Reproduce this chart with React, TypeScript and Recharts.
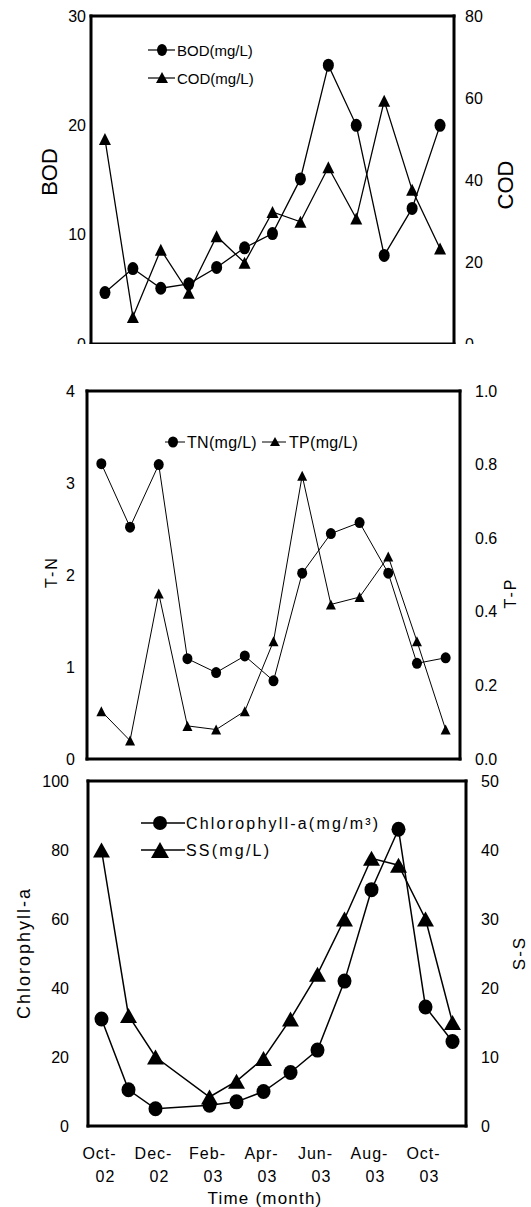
import React from 'react';
import { ComposedChart, Line, XAxis, YAxis, Legend } from 'recharts';

// 13 sampling dates used in the two upper panels
const sampleMonths = ['Oct-02', 'Nov-02', 'Dec-02', 'Feb-03', 'Mar-03', 'Apr-03', 'May-03', 'Jun-03', 'Jul-03', 'Aug-03', 'Sep-03', 'Oct-03', 'Nov-03'];
const bod = [4.7, 6.9, 5.1, 5.5, 7.0, 8.8, 10.1, 15.1, 25.5, 20.0, 8.1, 12.4, 20.0];
const cod = [50, 6.6, 23, 12.5, 26.3, 19.8, 32.2, 29.8, 43.1, 30.6, 59.3, 37.6, 23.3];
const tn = [3.21, 2.52, 3.2, 1.09, 0.94, 1.12, 0.85, 2.02, 2.45, 2.57, 2.02, 1.04, 1.1];
const tp = [0.13, 0.05, 0.45, 0.09, 0.08, 0.13, 0.32, 0.77, 0.42, 0.44, 0.55, 0.32, 0.08];

// bottom panel uses monthly slots, January has no sample
const monthSlots = ['Oct-02', 'Nov-02', 'Dec-02', 'Jan-03', 'Feb-03', 'Mar-03', 'Apr-03', 'May-03', 'Jun-03', 'Jul-03', 'Aug-03', 'Sep-03', 'Oct-03', 'Nov-03'];
const chlorophyll = [31, 10.5, 5, null, 6, 7, 10, 15.5, 22, 42, 68.5, 86, 34.5, 24.5];
const ss = [40, 16, 10, null, 4.2, 6.5, 9.8, 15.5, 22, 30, 38.8, 37.8, 30, 15];

const bodTicks = [0, 10, 20, 30];
const codTicks = [0, 20, 40, 60, 80];
const tnTicks = [0, 1, 2, 3, 4];
const tpTicks = [0, 0.2, 0.4, 0.6, 0.8, 1.0];
const chlTicks = [0, 20, 40, 60, 80, 100];
const ssTicks = [0, 10, 20, 30, 40, 50];
const monthLabels = ['Oct-02', 'Dec-02', 'Feb-03', 'Apr-03', 'Jun-03', 'Aug-03', 'Oct-03'];

const topData = sampleMonths.map((m, i) => ({ pos: i + 0.5, month: m, bod: bod[i], cod: cod[i] }));
const midData = sampleMonths.map((m, i) => ({ pos: i + 0.5, month: m, tn: tn[i], tp: tp[i] }));
const lowData = monthSlots.map((m, i) => ({ pos: i + 0.5, month: m, chl: chlorophyll[i], ss: ss[i] }));

const FONT = '"Liberation Sans", Arial, sans-serif';
const frame = { stroke: '#000', strokeWidth: 3, strokeLinecap: 'square' as const };
const tickFont = { fontSize: 16, fill: '#000', fontFamily: FONT };
const innerTick = { stroke: '#000', strokeWidth: 1 };

const ellipseDot = (rx: number, ry: number) => (props: any) => {
  const { cx, cy, index, value } = props;
  if (cx == null || cy == null || value == null) return <g key={`e-${index}`} />;
  return <ellipse key={`e-${index}`} cx={cx} cy={cy} rx={rx} ry={ry} fill="#000" />;
};

const triangleDot = (w: number, h: number) => (props: any) => {
  const { cx, cy, index, value } = props;
  if (cx == null || cy == null || value == null) return <g key={`t-${index}`} />;
  return (
    <polygon
      key={`t-${index}`}
      points={`${cx},${cy - h / 2} ${cx - w / 2},${cy + h / 2} ${cx + w / 2},${cy + h / 2}`}
      fill="#000"
    />
  );
};

const vTitle = (text: string, x: number, y: number, size: number, spacing = 0) => () => (
  <text
    x={x}
    y={y}
    transform={`rotate(-90, ${x}, ${y})`}
    textAnchor="middle"
    dominantBaseline="central"
    fontSize={size}
    fontFamily={FONT}
    letterSpacing={spacing}
    fill="#000"
  >
    {text}
  </text>
);

const MonthTick = (props: any) => {
  const { x, y, payload } = props;
  const [mon, yr] = monthSlots[Math.floor(payload.value)].split('-');
  const style = { fontSize: 16, fontFamily: FONT, fill: '#000', letterSpacing: 1 };
  return (
    <g>
      <text x={x - 2} y={y + 33} textAnchor="middle" {...style}>{mon}-</text>
      <text x={x + 4} y={y + 56} textAnchor="middle" {...style}>{yr}</text>
    </g>
  );
};

const TopLegend = () => (
  <svg width={120} height={56}>
    <line x1={3} y1={14} x2={30} y2={14} stroke="#000" strokeWidth={1.2} />
    <ellipse cx={17} cy={14} rx={5} ry={6} fill="#000" />
    <text x={32} y={14} dominantBaseline="central" fontSize={15} fontFamily={FONT}>BOD(mg/L)</text>
    <line x1={3} y1={42} x2={30} y2={42} stroke="#000" strokeWidth={1.2} />
    <polygon points="17,36 11,47 23,47" fill="#000" />
    <text x={32} y={42} dominantBaseline="central" fontSize={15} fontFamily={FONT}>COD(mg/L)</text>
  </svg>
);

const MidLegend = () => (
  <svg width={210} height={24}>
    <line x1={5} y1={12} x2={25} y2={12} stroke="#000" strokeWidth={1} />
    <ellipse cx={13} cy={12} rx={5} ry={5.5} fill="#000" />
    <text x={27} y={12} dominantBaseline="central" fontSize={16} fontFamily={FONT} letterSpacing={0.3}>TN(mg/L)</text>
    <line x1={102} y1={12} x2={126} y2={12} stroke="#000" strokeWidth={1} />
    <polygon points="115,7 110,16 120,16" fill="#000" />
    <text x={129} y={12} dominantBaseline="central" fontSize={16} fontFamily={FONT} letterSpacing={0.3}>TP(mg/L)</text>
  </svg>
);

const LowLegend = () => (
  <svg width={260} height={58}>
    <line x1={6} y1={15} x2={50} y2={15} stroke="#000" strokeWidth={1.5} />
    <circle cx={25} cy={15} r={7} fill="#000" />
    <text x={51} y={15} dominantBaseline="central" fontSize={16} fontFamily={FONT} letterSpacing={2.2}>Chlorophyll-a(mg/m³)</text>
    <line x1={6} y1={42} x2={50} y2={42} stroke="#000" strokeWidth={1.5} />
    <polygon points="25,34 16,50 34,50" fill="#000" />
    <text x={51} y={42} dominantBaseline="central" fontSize={16} fontFamily={FONT} letterSpacing={2.2}>SS(mg/L)</text>
  </svg>
);

const App: React.FC = () => {
  return (
    <div style={{ position: 'absolute', left: 0, top: 0, width: 531, height: 1207, background: '#fff' }}>
      {/* BOD / COD */}
      <div style={{ position: 'absolute', left: 0, top: 0, width: 531, height: 355 }}>
        <ComposedChart width={531} height={355} data={topData} margin={{ top: 15, right: 0, bottom: 11, left: 0 }}>
          <XAxis xAxisId="main" dataKey="pos" type="number" domain={[0, 13]} ticks={[1, 2, 3, 4, 5, 6, 7, 8, 9, 10, 11, 12]}
            height={1} mirror tick={false} tickSize={4} tickLine={innerTick} axisLine={frame} />
          <XAxis xAxisId="top" orientation="top" dataKey="pos" type="number" domain={[0, 13]} height={1} tick={false} tickLine={false} axisLine={frame} />
          <YAxis yAxisId="bod" domain={[0, 30]} ticks={bodTicks} width={91} tickSize={0} tickMargin={5} tick={tickFont} axisLine={frame}
            label={{ content: vTitle('BOD', 49, 172, 22) }} />
          <YAxis yAxisId="cod" orientation="right" domain={[0, 80]} ticks={codTicks} width={77} tickSize={0} tickMargin={11} tick={tickFont} axisLine={frame}
            label={{ content: vTitle('COD', 505, 185, 22) }} />
          <Legend layout="vertical" align="center" verticalAlign="middle" content={TopLegend} wrapperStyle={{ left: 145, top: 36, width: 120 }} />
          <Line xAxisId="main" yAxisId="bod" dataKey="bod" stroke="#000" strokeWidth={1.3} dot={ellipseDot(5.5, 6.5)} isAnimationActive={false} />
          <Line xAxisId="main" yAxisId="cod" dataKey="cod" stroke="#000" strokeWidth={1.3} dot={triangleDot(12, 12)} isAnimationActive={false} />
        </ComposedChart>
      </div>

      {/* T-N / T-P */}
      <div style={{ position: 'absolute', left: 0, top: 344, width: 531, height: 424, background: '#fff' }}>
        <ComposedChart width={531} height={424} data={midData} margin={{ top: 46, right: 0, bottom: 9, left: 0 }}>
          <XAxis xAxisId="main" dataKey="pos" type="number" domain={[0, 13]} ticks={[1, 2, 3, 4, 5, 6, 7, 8, 9, 10, 11, 12]}
            height={1} mirror tick={false} tickSize={4} tickLine={innerTick} axisLine={frame} />
          <XAxis xAxisId="top" orientation="top" dataKey="pos" type="number" domain={[0, 13]} height={1} tick={false} tickLine={false} axisLine={frame} />
          <YAxis yAxisId="tn" domain={[0, 4]} ticks={tnTicks} width={87} tickSize={0} tickMargin={12} tick={tickFont} axisLine={frame}
            label={{ content: vTitle('T-N', 51, 228, 16, 2) }} />
          <YAxis yAxisId="tp" orientation="right" domain={[0, 1]} ticks={tpTicks} width={71} tickSize={0} tickMargin={15} tick={tickFont} axisLine={frame}
            tickFormatter={(v: number) => v.toFixed(1)} label={{ content: vTitle('T-P', 510, 249, 16, 2) }} />
          <Legend layout="vertical" align="center" verticalAlign="middle" content={MidLegend} wrapperStyle={{ left: 160, top: 86, width: 210 }} />
          <Line xAxisId="main" yAxisId="tn" dataKey="tn" stroke="#000" strokeWidth={1} dot={ellipseDot(5, 5.5)} isAnimationActive={false} />
          <Line xAxisId="main" yAxisId="tp" dataKey="tp" stroke="#000" strokeWidth={1} dot={triangleDot(10, 10)} isAnimationActive={false} />
        </ComposedChart>
      </div>

      {/* Chlorophyll-a / S-S */}
      <div style={{ position: 'absolute', left: 0, top: 768, width: 531, height: 439, background: '#fff' }}>
        <ComposedChart width={531} height={439} data={lowData} margin={{ top: 12, right: 0, bottom: 0, left: 0 }}>
          <XAxis xAxisId="main" dataKey="pos" type="number" domain={[0, 14]} ticks={[2, 4, 6, 8, 10, 12]}
            height={1} mirror tick={false} tickSize={4} tickLine={innerTick} axisLine={frame} />
          <XAxis xAxisId="lbl" dataKey="pos" type="number" domain={[0, 14]} ticks={monthLabels.map((m) => monthSlots.indexOf(m) + 0.5)}
            height={81} tickSize={0} tickMargin={0} tickLine={false} axisLine={false} tick={MonthTick} interval={0}
            label={{ content: () => (
              <text x={265} y={436} textAnchor="middle" fontSize={17} fontFamily={FONT} letterSpacing={1.2} fill="#000">Time (month)</text>
            ) }} />
          <XAxis xAxisId="top" orientation="top" dataKey="pos" type="number" domain={[0, 14]} height={1} tick={false} tickLine={false} axisLine={frame} />
          <YAxis yAxisId="chl" domain={[0, 100]} ticks={chlTicks} width={88} tickSize={0} tickMargin={19} tick={tickFont} axisLine={frame}
            label={{ content: vTitle('Chlorophyll-a', 24, 185, 18, 2) }} />
          <YAxis yAxisId="ss" orientation="right" domain={[0, 50]} ticks={ssTicks} width={65} tickSize={0} tickMargin={15} tick={tickFont} axisLine={frame}
            label={{ content: vTitle('S-S', 519, 185, 17, 2) }} />
          <Legend layout="vertical" align="center" verticalAlign="middle" content={LowLegend} wrapperStyle={{ left: 135, top: 40, width: 260 }} />
          <Line xAxisId="main" yAxisId="chl" dataKey="chl" stroke="#000" strokeWidth={1.5} connectNulls dot={ellipseDot(7, 7.5)} isAnimationActive={false} />
          <Line xAxisId="main" yAxisId="ss" dataKey="ss" stroke="#000" strokeWidth={1.5} connectNulls dot={triangleDot(17, 15)} isAnimationActive={false} />
        </ComposedChart>
      </div>
    </div>
  );
};

export default App;
